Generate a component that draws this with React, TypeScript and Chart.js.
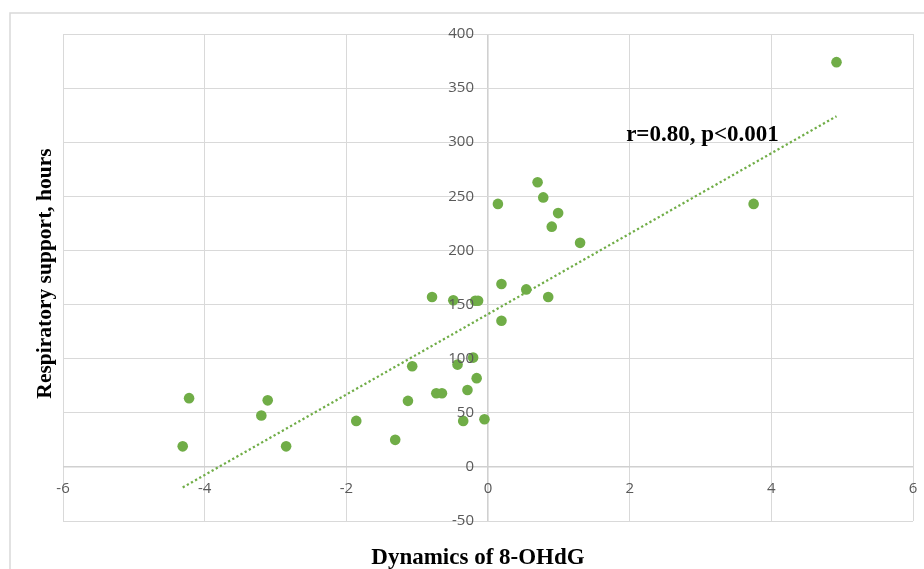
import React, { useEffect, useRef } from "react";
import { Chart, registerables } from "chart.js";

Chart.register(...registerables);

// Data
const xValues = [
  -4.31, -4.22, -3.2, -3.11, -2.85, -1.86, -1.31, -1.13, -1.07, -0.79,
  -0.73, -0.65, -0.49, -0.43, -0.35, -0.29, -0.21, -0.18, -0.14, -0.16,
  -0.05, 0.14, 0.19, 0.19, 0.54, 0.7, 0.78, 0.85, 0.9, 0.99,
  1.3, 3.75, 4.92,
];
const yValues = [
  19, 63.5, 47.5, 61.5, 19, 42.5, 25, 61, 93, 157,
  68, 68, 154, 94.5, 42.5, 71, 101, 153.5, 153.5, 82,
  44, 243, 169, 135, 164, 263, 249, 157, 222, 234.5,
  207, 243, 374,
];
const trendX = [-4.31, 4.92];
const trendY = [-19, 324];

const xTicks = [-6, -4, -2, 0, 2, 4, 6];
const yTicks = [-50, 0, 50, 100, 150, 200, 250, 300, 350, 400];

const xTitle = "Dynamics of 8-OHdG";
const yTitle = "Respiratory support, hours";
const annotationText = "r=0.80, p<0.001";
const annotationX = [1.95];
const annotationY = [301];

const GREEN = "#70ad47";

const overlayPlugin = {
  id: "overlay",
  beforeDraw(chart: any) {
    const ctx = chart.ctx;
    ctx.save();
    ctx.strokeStyle = "#d9d9d9";
    ctx.lineWidth = 1.5;
    ctx.strokeRect(10, 13, 2000, 2000);
    ctx.restore();
  },
  afterDraw(chart: any) {
    const ctx = chart.ctx;
    const xs = chart.scales.x;
    const ys = chart.scales.y;
    const x0 = xs.getPixelForValue(0);
    const y0 = ys.getPixelForValue(0);
    ctx.save();
    ctx.font = '15px "Open Sans"';
    ctx.fillStyle = "#595959";
    ctx.textAlign = "right";
    ctx.textBaseline = "middle";
    yTicks.forEach((v) => ctx.fillText(String(v), x0 - 14, ys.getPixelForValue(v)));
    ctx.textAlign = "center";
    xTicks.forEach((v) => ctx.fillText(String(v), xs.getPixelForValue(v), y0 + 22));

    ctx.fillStyle = "#000000";
    ctx.textBaseline = "alphabetic";
    ctx.textAlign = "center";
    const area = chart.chartArea;
    ctx.font = 'bold 23px "Liberation Serif"';
    ctx.fillText(xTitle, (area.left + area.right) / 2 - 10, 564);

    ctx.save();
    ctx.font = 'bold 21.5px "Liberation Serif"';
    ctx.translate(51, (area.top + area.bottom) / 2 - 4);
    ctx.rotate(-Math.PI / 2);
    ctx.fillText(yTitle, 0, 0);
    ctx.restore();

    ctx.font = 'bold 23px "Liberation Serif"';
    ctx.textAlign = "left";
    ctx.fillText(
      annotationText,
      xs.getPixelForValue(annotationX[0]),
      ys.getPixelForValue(annotationY[0])
    );
    ctx.restore();
  },
};

export default function App() {
  const canvasRef = useRef<HTMLCanvasElement | null>(null);

  useEffect(() => {
    if (!canvasRef.current) return;
    const gridColor = (c: any) => (c.tick && c.tick.value === 0 ? "#d0d0d0" : "#d9d9d9");
    const gridWidth = (c: any) => (c.tick && c.tick.value === 0 ? 1.6 : 1);
    const chart = new Chart(canvasRef.current, {
      type: "scatter",
      data: {
        datasets: [
          {
            label: "points",
            data: xValues.map((x, i) => ({ x, y: yValues[i] })),
            backgroundColor: GREEN,
            borderColor: GREEN,
            borderWidth: 0,
            pointRadius: 5.3,
            order: 1,
          },
          {
            label: "trend",
            data: trendX.map((x, i) => ({ x, y: trendY[i] })),
            showLine: true,
            borderColor: GREEN,
            borderWidth: 2.25,
            borderDash: [2.25, 2.5],
            pointRadius: 0,
            fill: false,
            order: 2,
          } as any,
        ],
      },
      options: {
        animation: false,
        responsive: true,
        maintainAspectRatio: false,
        layout: { padding: { left: 63, right: 11, top: 34, bottom: 48 } },
        plugins: {
          legend: { display: false },
          tooltip: { enabled: false },
        },
        scales: {
          x: {
            type: "linear",
            min: -6,
            max: 6,
            ticks: { display: false, stepSize: 2 },
            grid: { color: gridColor, lineWidth: gridWidth, drawTicks: false },
            border: { display: false },
          },
          y: {
            type: "linear",
            min: -50,
            max: 400,
            ticks: { display: false, stepSize: 50 },
            grid: { color: gridColor, lineWidth: gridWidth, drawTicks: false },
            border: { display: false },
          },
        },
      },
      plugins: [overlayPlugin],
    });
    return () => chart.destroy();
  }, []);

  return (
    <div
      style={{
        position: "fixed",
        left: 0,
        top: 0,
        width: 924,
        height: 569,
        background: "#ffffff",
      }}
    >
      <canvas ref={canvasRef} />
    </div>
  );
}
